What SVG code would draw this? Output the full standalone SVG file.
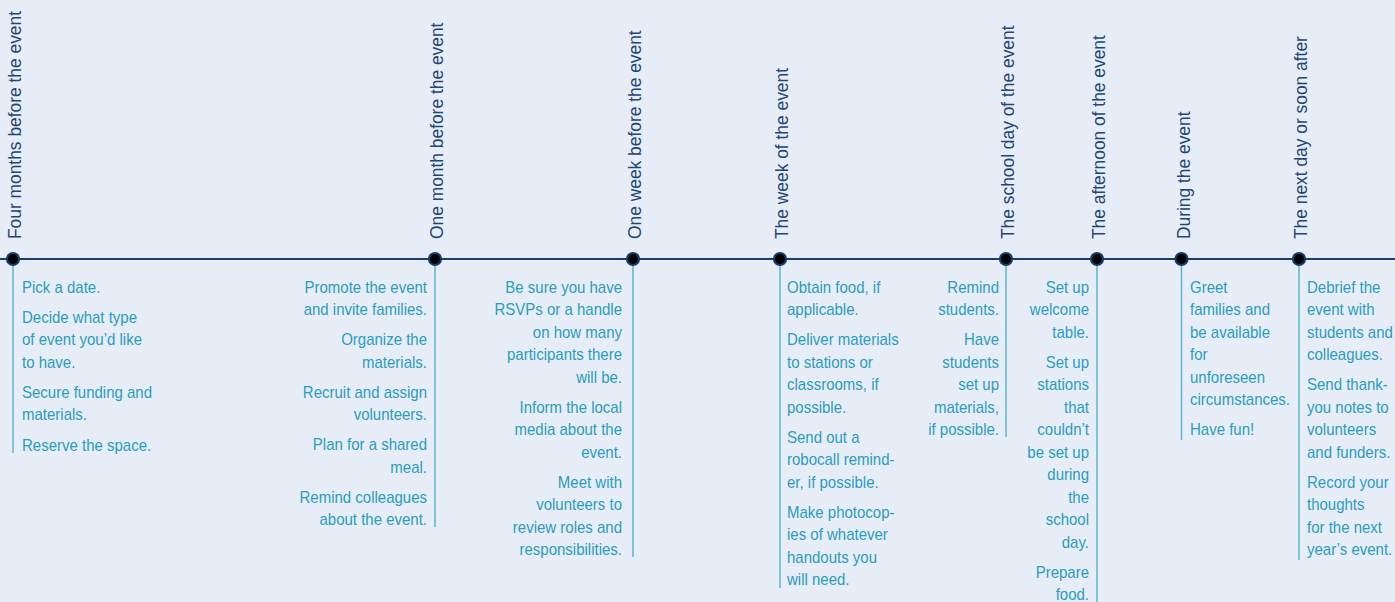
<svg xmlns="http://www.w3.org/2000/svg" width="1395" height="602" viewBox="0 0 1395 602">
<style>
.bg{fill:#e6edf6}
.axis{stroke:#1c3d6b;stroke-width:2;fill:none}
.stem{stroke:#5ab6cf;stroke-width:1.5;fill:none}
.dot{fill:#000;stroke:#163a6b;stroke-width:2.2}
.hd{font-family:"Liberation Sans",Arial,sans-serif;font-size:19px;fill:#1e4677}
.t{font-family:"Liberation Sans",Arial,sans-serif;font-size:16px;fill:#2b9cc1}
.r{text-anchor:end}
</style>
<rect class="bg" x="0" y="0" width="1395" height="602"/>
<g id="connectors">
<line class="axis" x1="0" y1="259" x2="1395" y2="259"/>
</g>
<g id="n1">
<text class="hd" transform="translate(21,239) rotate(-90) scale(0.915,1)">Four months before the event</text>
<line class="stem" x1="13" y1="259" x2="13" y2="453"/>
<circle class="dot" cx="13" cy="259" r="6"/>
<g transform="translate(22,0) scale(0.9375,1)">
<text class="t" x="0" y="293">Pick a date.</text>
<text class="t" x="0" y="323">Decide what type</text>
<text class="t" x="0" y="345.5">of event you’d like</text>
<text class="t" x="0" y="368">to have.</text>
<text class="t" x="0" y="398">Secure funding and</text>
<text class="t" x="0" y="420.5">materials.</text>
<text class="t" x="0" y="451">Reserve the space.</text>
</g>
</g>
<g id="n2">
<text class="hd" transform="translate(443,239) rotate(-90) scale(0.915,1)">One month before the event</text>
<line class="stem" x1="435" y1="259" x2="435" y2="527"/>
<circle class="dot" cx="435" cy="259" r="6"/>
<g transform="translate(427,0) scale(0.9375,1)">
<text class="t r" x="0" y="293">Promote the event</text>
<text class="t r" x="0" y="315.5">and invite families.</text>
<text class="t r" x="0" y="345.5">Organize the</text>
<text class="t r" x="0" y="368">materials.</text>
<text class="t r" x="0" y="398">Recruit and assign</text>
<text class="t r" x="0" y="420.5">volunteers.</text>
<text class="t r" x="0" y="450.5">Plan for a shared</text>
<text class="t r" x="0" y="473">meal.</text>
<text class="t r" x="0" y="503">Remind colleagues</text>
<text class="t r" x="0" y="525.5">about the event.</text>
</g>
</g>
<g id="n3">
<text class="hd" transform="translate(641,239) rotate(-90) scale(0.915,1)">One week before the event</text>
<line class="stem" x1="633" y1="259" x2="633" y2="557"/>
<circle class="dot" cx="633" cy="259" r="6"/>
<g transform="translate(622,0) scale(0.9375,1)">
<text class="t r" x="0" y="293">Be sure you have</text>
<text class="t r" x="0" y="315.5">RSVPs or a handle</text>
<text class="t r" x="0" y="338">on how many</text>
<text class="t r" x="0" y="360.5">participants there</text>
<text class="t r" x="0" y="383">will be.</text>
<text class="t r" x="0" y="413">Inform the local</text>
<text class="t r" x="0" y="435.5">media about the</text>
<text class="t r" x="0" y="458">event.</text>
<text class="t r" x="0" y="488">Meet with</text>
<text class="t r" x="0" y="510.5">volunteers to</text>
<text class="t r" x="0" y="533">review roles and</text>
<text class="t r" x="0" y="555.5">responsibilities.</text>
</g>
</g>
<g id="n4">
<text class="hd" transform="translate(788,239) rotate(-90) scale(0.915,1)">The week of the event</text>
<line class="stem" x1="780" y1="259" x2="780" y2="588"/>
<circle class="dot" cx="780" cy="259" r="6"/>
<g transform="translate(787,0) scale(0.9375,1)">
<text class="t" x="0" y="293">Obtain food, if</text>
<text class="t" x="0" y="315.5">applicable.</text>
<text class="t" x="0" y="345.5">Deliver materials</text>
<text class="t" x="0" y="368">to stations or</text>
<text class="t" x="0" y="390.5">classrooms, if</text>
<text class="t" x="0" y="413">possible.</text>
<text class="t" x="0" y="443">Send out a</text>
<text class="t" x="0" y="465.5">robocall remind-</text>
<text class="t" x="0" y="488">er, if possible.</text>
<text class="t" x="0" y="518">Make photocop-</text>
<text class="t" x="0" y="540.5">ies of whatever</text>
<text class="t" x="0" y="563">handouts you</text>
<text class="t" x="0" y="585.5">will need.</text>
</g>
</g>
<g id="n5">
<text class="hd" transform="translate(1014,239) rotate(-90) scale(0.915,1)">The school day of the event</text>
<line class="stem" x1="1006" y1="259" x2="1006" y2="437"/>
<circle class="dot" cx="1006" cy="259" r="6"/>
<g transform="translate(999,0) scale(0.9375,1)">
<text class="t r" x="0" y="293">Remind</text>
<text class="t r" x="0" y="315.5">students.</text>
<text class="t r" x="0" y="345.5">Have</text>
<text class="t r" x="0" y="368">students</text>
<text class="t r" x="0" y="390.5">set up</text>
<text class="t r" x="0" y="413">materials,</text>
<text class="t r" x="0" y="435.5">if possible.</text>
</g>
</g>
<g id="n6">
<text class="hd" transform="translate(1105,239) rotate(-90) scale(0.915,1)">The afternoon of the event</text>
<line class="stem" x1="1097" y1="259" x2="1097" y2="602"/>
<circle class="dot" cx="1097" cy="259" r="6"/>
<g transform="translate(1089,0) scale(0.9375,1)">
<text class="t r" x="0" y="293">Set up</text>
<text class="t r" x="0" y="315.5">welcome</text>
<text class="t r" x="0" y="338">table.</text>
<text class="t r" x="0" y="368">Set up</text>
<text class="t r" x="0" y="390.5">stations</text>
<text class="t r" x="0" y="413">that</text>
<text class="t r" x="0" y="435.5">couldn’t</text>
<text class="t r" x="0" y="458">be set up</text>
<text class="t r" x="0" y="480.5">during</text>
<text class="t r" x="0" y="503">the</text>
<text class="t r" x="0" y="525.5">school</text>
<text class="t r" x="0" y="548">day.</text>
<text class="t r" x="0" y="578">Prepare</text>
<text class="t r" x="0" y="600.5">food.</text>
</g>
</g>
<g id="n7">
<text class="hd" transform="translate(1190,239) rotate(-90) scale(0.915,1)">During the event</text>
<line class="stem" x1="1181.5" y1="259" x2="1181.5" y2="440"/>
<circle class="dot" cx="1181.5" cy="259" r="6"/>
<g transform="translate(1190,0) scale(0.9375,1)">
<text class="t" x="0" y="293">Greet</text>
<text class="t" x="0" y="315.5">families and</text>
<text class="t" x="0" y="338">be available</text>
<text class="t" x="0" y="360.5">for</text>
<text class="t" x="0" y="383">unforeseen</text>
<text class="t" x="0" y="405.5">circumstances.</text>
<text class="t" x="0" y="435.5">Have fun!</text>
</g>
</g>
<g id="n8">
<text class="hd" transform="translate(1307,239) rotate(-90) scale(0.915,1)">The next day or soon after</text>
<line class="stem" x1="1299" y1="259" x2="1299" y2="560"/>
<circle class="dot" cx="1299" cy="259" r="6"/>
<g transform="translate(1307,0) scale(0.9375,1)">
<text class="t" x="0" y="293">Debrief the</text>
<text class="t" x="0" y="315.5">event with</text>
<text class="t" x="0" y="338">students and</text>
<text class="t" x="0" y="360.5">colleagues.</text>
<text class="t" x="0" y="390.5">Send thank-</text>
<text class="t" x="0" y="413">you notes to</text>
<text class="t" x="0" y="435.5">volunteers</text>
<text class="t" x="0" y="458">and funders.</text>
<text class="t" x="0" y="488">Record your</text>
<text class="t" x="0" y="510.5">thoughts</text>
<text class="t" x="0" y="533">for the next</text>
<text class="t" x="0" y="555.5">year’s event.</text>
</g>
</g>
</svg>
